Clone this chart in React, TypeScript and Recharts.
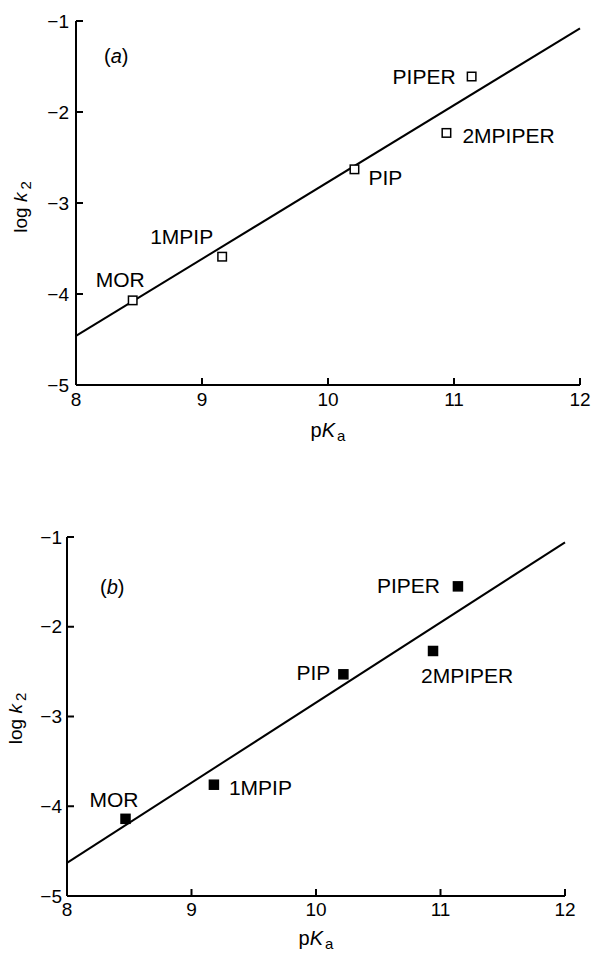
import { ScatterChart, Scatter, XAxis, YAxis, Label } from 'recharts';

const compounds = ['MOR', '1MPIP', 'PIP', 'PIPER', '2MPIPER'];

// panel (a)
const pKaA = [8.45, 9.16, 10.21, 11.14, 10.94];
const logK2A = [-4.07, -3.59, -2.63, -1.61, -2.23];
const fitXA = [8, 12];
const fitYA = [-4.46, -1.08];

// panel (b)
const pKaB = [8.47, 9.18, 10.22, 11.14, 10.94];
const logK2B = [-4.14, -3.76, -2.53, -1.55, -2.27];
const fitXB = [8, 12];
const fitYB = [-4.63, -1.06];

const xTicks = [8, 9, 10, 11, 12];
const yTicks = [-5, -4, -3, -2, -1];

const FONT = '"Liberation Sans", Arial, Helvetica, sans-serif';
const TICK = { fill: '#000', fontSize: 19, fontFamily: FONT };

type LabelPos = { dx: number; dy: number; anchor: 'start' | 'end' | 'middle' };

const LABELS_A: Record<string, LabelPos> = {
  MOR: { dx: 12, dy: -13, anchor: 'end' },
  '1MPIP': { dx: -9, dy: -13, anchor: 'end' },
  PIP: { dx: 14, dy: 16, anchor: 'start' },
  PIPER: { dx: -16, dy: 7, anchor: 'end' },
  '2MPIPER': { dx: 16, dy: 10, anchor: 'start' },
};

const LABELS_B: Record<string, LabelPos> = {
  MOR: { dx: 13, dy: -12, anchor: 'end' },
  '1MPIP': { dx: 15, dy: 10, anchor: 'start' },
  PIP: { dx: -13, dy: 6, anchor: 'end' },
  PIPER: { dx: -18, dy: 7, anchor: 'end' },
  '2MPIPER': { dx: -12, dy: 32, anchor: 'start' },
};

const fmt = (v: number) => (v < 0 ? `\u2212${Math.abs(v)}` : String(v));

function makeShape(filled: boolean, labels: Record<string, LabelPos>) {
  return (props: any) => {
    const { cx, cy, payload } = props;
    const pos = labels[payload.name];
    const s = filled ? 9 : 8.5;
    return (
      <g>
        <rect
          x={cx - s / 2}
          y={cy - s / 2}
          width={s}
          height={s}
          fill={filled ? '#000' : '#fff'}
          stroke="#000"
          strokeWidth={1.5}
        />
        <text
          x={cx + pos.dx}
          y={cy + pos.dy}
          textAnchor={pos.anchor}
          fontSize={21}
          fontFamily={FONT}
          fill="#000"
        >
          {payload.name}
        </text>
      </g>
    );
  };
}

const noDot = () => <g />;

interface PanelProps {
  tag: string;
  xs: number[];
  ys: number[];
  fitX: number[];
  fitY: number[];
  filled: boolean;
  labels: Record<string, LabelPos>;
  margin: { top: number; right: number; left: number; bottom: number };
  yWidth: number;
  xHeight: number;
  xTickMargin: number;
  yTickMargin: number;
  xTitleDy: number;
  yTitleX: number;
  yTitleShift: number;
  tagPos: { left: number; top: number };
}

function Panel(p: PanelProps) {
  const points = compounds.map((name, i) => ({ name, x: p.xs[i], y: p.ys[i] }));
  const fit = p.fitX.map((x, i) => ({ x, y: p.fitY[i] }));

  return (
    <div style={{ position: 'relative', width: 593, height: 478 }}>
      <ScatterChart width={593} height={478} margin={p.margin}>
        <XAxis
          type="number"
          dataKey="x"
          domain={[8, 12]}
          ticks={xTicks}
          tick={TICK}
          tickSize={-7}
          tickMargin={p.xTickMargin}
          height={p.xHeight}
          axisLine={{ stroke: '#000', strokeWidth: 2 }}
          tickLine={{ stroke: '#000', strokeWidth: 2 }}
        >
          <Label
            content={(lp: any) => {
              const vb = lp.viewBox;
              return (
                <text
                  x={vb.x + vb.width / 2}
                  y={vb.y + p.xTitleDy}
                  textAnchor="middle"
                  fontSize={20}
                  fontFamily={FONT}
                  fill="#000"
                >
                  p<tspan fontStyle="italic">K</tspan>
                  <tspan fontSize={15} dx={2} dy={4}>a</tspan>
                </text>
              );
            }}
          />
        </XAxis>
        <YAxis
          type="number"
          dataKey="y"
          domain={[-5, -1]}
          ticks={yTicks}
          tickFormatter={fmt}
          tick={TICK}
          tickSize={-7}
          tickMargin={p.yTickMargin}
          width={p.yWidth}
          axisLine={{ stroke: '#000', strokeWidth: 2 }}
          tickLine={{ stroke: '#000', strokeWidth: 2 }}
        >
          <Label
            content={(lp: any) => {
              const vb = lp.viewBox;
              const cy = vb.y + vb.height / 2 + p.yTitleShift;
              return (
                <text
                  x={p.yTitleX}
                  y={cy}
                  transform={`rotate(-90 ${p.yTitleX} ${cy})`}
                  textAnchor="middle"
                  fontSize={19}
                  fontFamily={FONT}
                  fill="#000"
                >
                  log <tspan fontStyle="italic">k</tspan>
                  <tspan fontSize={15} dx={3} dy={4}>2</tspan>
                </text>
              );
            }}
          />
        </YAxis>
        <Scatter
          data={fit}
          line={{ stroke: '#000', strokeWidth: 2 }}
          shape={noDot}
          isAnimationActive={false}
          legendType="none"
        />
        <Scatter
          data={points}
          shape={makeShape(p.filled, p.labels)}
          isAnimationActive={false}
        />
      </ScatterChart>
      <div
        style={{
          position: 'absolute',
          left: p.tagPos.left,
          top: p.tagPos.top,
          fontFamily: FONT,
          fontSize: 20,
          color: '#000',
        }}
      >
        (<i>{p.tag}</i>)
      </div>
    </div>
  );
}

export default function App() {
  return (
    <div style={{ position: 'absolute', left: 0, top: 0, width: 593, height: 956, background: '#fff' }}>
      <Panel
        tag="a"
        xs={pKaA}
        ys={logK2A}
        fitX={fitXA}
        fitY={fitYA}
        filled={false}
        labels={LABELS_A}
        margin={{ top: 21, right: 13, left: 0, bottom: 0 }}
        yWidth={76}
        xHeight={93}
        xTickMargin={15}
        yTickMargin={14}
        xTitleDy={52}
        yTitleX={27}
        yTitleShift={4}
        tagPos={{ left: 104, top: 45 }}
      />
      <Panel
        tag="b"
        xs={pKaB}
        ys={logK2B}
        fitX={fitXB}
        fitY={fitYB}
        filled={true}
        labels={LABELS_B}
        margin={{ top: 59, right: 28, left: 0, bottom: 0 }}
        yWidth={67}
        xHeight={60}
        xTickMargin={14}
        yTickMargin={12}
        xTitleDy={49}
        yTitleX={22}
        yTitleShift={2}
        tagPos={{ left: 100, top: 98 }}
      />
    </div>
  );
}
